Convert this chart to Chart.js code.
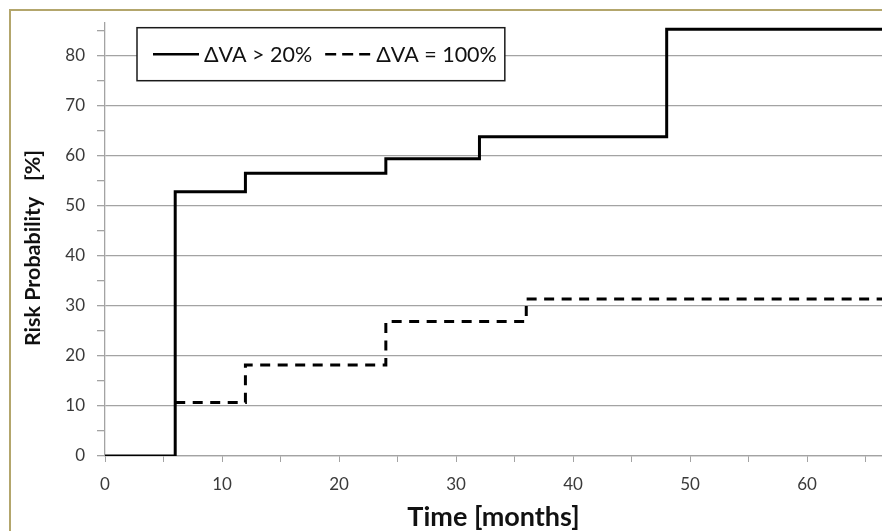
<!DOCTYPE html>
<html><head><meta charset="utf-8">
<script src="https://cdn.jsdelivr.net/npm/chart.js@4"></script>
<style>html,body{margin:0;padding:0;background:#fff;overflow:hidden}#wrap{width:882px;height:531px;position:relative}</style>
</head><body><div id="wrap"><canvas id="c"></canvas></div>
<script>
// ---- data ----
const months20 = [0, 6, 12, 24, 32, 48, 72];
const risk20 = [0, 52.8, 56.5, 59.4, 63.8, 85.3, 85.3];
const months100 = [6, 12, 24, 36, 72];
const risk100 = [10.7, 18.2, 26.9, 31.4, 31.4];
const seriesLabels = ['ΔVA > 20%', 'ΔVA = 100%'];
const xTitle = 'Time [months]';
const yTitle = 'Risk Probability   [%]';
const xLabelStep = 10, yLabelStep = 10, minorStep = 5;

const FONT = 'Lato, "Open Sans", sans-serif';
const GRID = '#a3a3a3';
const TXT = '#3a3a3a';

function pts(xs, ys) { return xs.map((x, i) => ({x: x, y: ys[i]})); }

const framePlugin = {
  id: 'frame',
  beforeDraw(chart) {
    const c = chart.ctx;
    c.save();
    c.fillStyle = '#fff';
    c.fillRect(0, 0, chart.width, chart.height);
    c.strokeStyle = '#b3a66c';
    c.lineWidth = 2;
    c.strokeRect(10, 10, chart.width + 50, chart.height + 50);
    c.restore();
  },
  afterDraw(chart) {
    const c = chart.ctx;
    c.save();
    c.translate(33, 248);
    c.rotate(-Math.PI / 2);
    c.font = 'bold 21.5px ' + FONT;
    c.fillStyle = '#111';
    c.textAlign = 'center';
    c.textBaseline = 'middle';
    c.fillText(yTitle, 0, 0);
    c.restore();
  }
};

const legendBox = {
  id: 'legendBox',
  afterDatasetsDraw(chart) {
    const c = chart.ctx, a = chart.chartArea;
    const bx = a.left + 32, by = a.top + 5, bh = 53;
    const cy = by + bh / 2;
    c.save();
    c.font = '21.5px ' + FONT;
    c.textBaseline = 'middle';
    let x = bx + 16;
    const parts = [];
    let lastEnd = x;
    chart.data.datasets.forEach((ds) => {
      const sx = x, ex = x + 46;
      const tx = ex + 5;
      const w = c.measureText(ds.label).width;
      parts.push({sx, ex, tx, ds});
      lastEnd = tx + w;
      x = lastEnd + 13;
    });
    const bw = lastEnd + 8 - bx;
    c.fillStyle = '#fff';
    c.fillRect(bx, by, bw, bh);
    c.strokeStyle = '#1a1a1a';
    c.lineWidth = 1.5;
    c.strokeRect(bx, by, bw, bh);
    parts.forEach(p => {
      c.beginPath();
      c.setLineDash(p.ds.borderDash ? [11, 6] : []);
      c.strokeStyle = '#000';
      c.lineWidth = 2.5;
      c.moveTo(p.sx, cy); c.lineTo(p.ex, cy);
      c.stroke();
      c.setLineDash([]);
      c.fillStyle = '#111';
      c.fillText(p.ds.label, p.tx, cy + 1);
    });
    c.restore();
  }
};

new Chart(document.getElementById('c'), {
  type: 'line',
  data: {
    datasets: [
      {label: seriesLabels[0], data: pts(months20, risk20), stepped: 'before',
       borderColor: '#000', borderWidth: 3, pointRadius: 0, fill: false},
      {label: seriesLabels[1], data: pts(months100, risk100), stepped: 'before',
       borderColor: '#000', borderWidth: 3, borderDash: [10, 7.5], pointRadius: 0, fill: false}
    ]
  },
  options: {
    responsive: true, maintainAspectRatio: false, animation: false,
    layout: {padding: {top: 22.7, left: 0, right: 0, bottom: 0}},
    plugins: {legend: {display: false}, tooltip: {enabled: false}},
    scales: {
      x: {
        type: 'linear', min: 0, max: 66.4,
        afterFit(s) { s.height = 75; s.paddingRight = 0; },
        border: {color: GRID, width: 1.3},
        grid: {drawOnChartArea: false, tickLength: 6,
          tickColor: ctx => (ctx.tick && ctx.tick.value % minorStep === 0) ? GRID : 'transparent'},
        ticks: {stepSize: minorStep, includeBounds: false, autoSkip: false, maxRotation: 0, padding: 12,
          color: TXT, font: {family: FONT, size: 17},
          callback: v => (v % xLabelStep === 0 ? String(v) : '')},
        title: {display: true, text: xTitle, color: '#111',
          font: {family: FONT, size: 27, weight: 'bold'}, padding: {top: 0, bottom: -2}}
      },
      y: {
        type: 'linear', min: 0, max: 86.6,
        afterFit(s) { s.width = 105; s.paddingTop = 0; },
        border: {color: GRID, width: 1.3},
        grid: {tickLength: 8, lineWidth: 1.3,
          color: ctx => (ctx.tick && ctx.tick.value % yLabelStep === 0) ? GRID : 'transparent',
          tickColor: ctx => (ctx.tick && ctx.tick.value % minorStep === 0) ? GRID : 'transparent'},
        ticks: {stepSize: minorStep, includeBounds: false, autoSkip: false, padding: 12,
          color: TXT, font: {family: FONT, size: 17},
          callback: v => (v % yLabelStep === 0 ? String(v) : '')},
        title: {display: false}
      }
    }
  },
  plugins: [framePlugin, legendBox]
});
</script></body></html>
